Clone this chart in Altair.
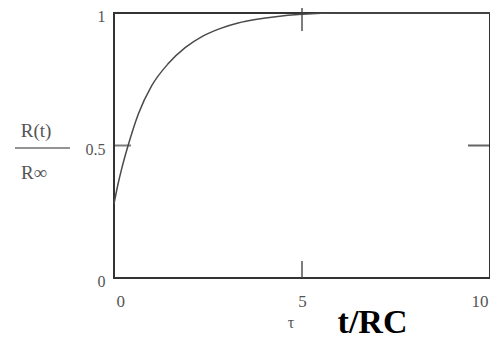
import altair as alt
import pandas as pd

# curve: t/RC and R(t)/R_inf
t_vals = [0, 0.1, 0.2, 0.375, 0.65, 1.0, 1.45, 1.9, 2.35, 2.8, 3.3, 3.8, 4.3, 5.0, 6, 7, 8, 9, 10]
r_vals = [0.28, 0.35, 0.41, 0.50, 0.62, 0.725, 0.81, 0.87, 0.912, 0.94, 0.962, 0.976, 0.986, 0.995, 1, 1, 1, 1, 1]

x_labels = [0, 5, 10]
y_labels = [0, 0.5, 1]
x_tick = [5]
y_tick = [0.5]

curve = pd.DataFrame({"t": t_vals, "r": r_vals})
xs = alt.Scale(domain=[0, 10], nice=False, zero=False)
ys = alt.Scale(domain=[0, 1], nice=False, zero=False)
SERIF = "Liberation Serif"
GREY = "#555555"

base = alt.Chart(curve).mark_line(color="#4a4a4a", strokeWidth=1.5, interpolate="monotone").encode(
    x=alt.X("t:Q", scale=xs,
            axis=alt.Axis(values=x_labels, domain=False, ticks=False, grid=False,
                          labelExpr="'' + datum.value", labelFlush=True, labelFlushOffset=-2,
                          labelPadding=15,
                          labelFont=SERIF, labelFontSize=17, labelColor=GREY,
                          title="t/RC", titleFont=SERIF, titleFontSize=34, titleFontWeight="bold",
                          titleColor="#000000", titleX=258, titleY=54, titleAlign="center",
                          titleBaseline="alphabetic")),
    y=alt.Y("r:Q", scale=ys,
            axis=alt.Axis(values=y_labels, domain=False, ticks=False, grid=False,
                          labelExpr="'' + datum.value", labelPadding=9, labelOffset=3.5,
                          labelFont=SERIF, labelFontSize=16, labelColor=GREY, title=None)),
)

tick_df_x = pd.DataFrame({"t": x_tick, "lo": [0] * len(x_tick), "hi": [1] * len(x_tick)})
tick_df_y = pd.DataFrame({"r": y_tick, "lo": [0] * len(y_tick), "hi": [10] * len(y_tick)})

xt_bottom = alt.Chart(tick_df_x).mark_tick(orient="vertical", size=17, thickness=2, color="#444", yOffset=-8.5).encode(
    x=alt.X("t:Q", scale=xs), y=alt.Y("lo:Q", scale=ys))
xt_top = alt.Chart(tick_df_x).mark_tick(orient="vertical", size=26, thickness=2, color="#444", yOffset=5).encode(
    x=alt.X("t:Q", scale=xs), y=alt.Y("hi:Q", scale=ys))
yt_left = alt.Chart(tick_df_y).mark_tick(orient="horizontal", size=16, thickness=2, color="#444", xOffset=9).encode(
    x=alt.X("lo:Q", scale=xs), y=alt.Y("r:Q", scale=ys))
yt_right = alt.Chart(tick_df_y).mark_tick(orient="horizontal", size=22, thickness=2, color="#222", xOffset=-11).encode(
    x=alt.X("hi:Q", scale=xs), y=alt.Y("r:Q", scale=ys))

tau = alt.Chart(pd.DataFrame({"t": [5], "r": [0], "s": ["τ"]})).mark_text(
    font=SERIF, fontSize=16, color=GREY, dx=-11, dy=45).encode(
    x=alt.X("t:Q", scale=xs), y=alt.Y("r:Q", scale=ys), text="s:N")

num = alt.Chart(pd.DataFrame({"t": [0], "r": [0.5], "s": ["R(t)"]})).mark_text(
    font=SERIF, fontSize=19, color=GREY, dx=-78, dy=-15).encode(
    x=alt.X("t:Q", scale=xs), y=alt.Y("r:Q", scale=ys), text="s:N")
den = alt.Chart(pd.DataFrame({"t": [0], "r": [0.5], "s": ["R∞"]})).mark_text(
    font=SERIF, fontSize=19, color=GREY, dx=-80, dy=27).encode(
    x=alt.X("t:Q", scale=xs), y=alt.Y("r:Q", scale=ys), text="s:N")
bar = alt.Chart(pd.DataFrame({"t": [0], "r": [0.5]})).mark_tick(
    orient="horizontal", size=55, thickness=1.5, color="#333", xOffset=-71.5, yOffset=2.5).encode(
    x=alt.X("t:Q", scale=xs), y=alt.Y("r:Q", scale=ys))

chart = alt.layer(base, xt_bottom, xt_top, yt_left, yt_right, tau, num, den, bar).properties(
    width=376, height=265,
    padding={"left": 106, "top": 5, "right": 0, "bottom": 62},
    autosize=alt.AutoSizeParams(type="none"),
).configure(background="white").configure_view(stroke="#333333", strokeWidth=2)

chart.save("out.html", embed_options={"renderer": "svg", "actions": False})
